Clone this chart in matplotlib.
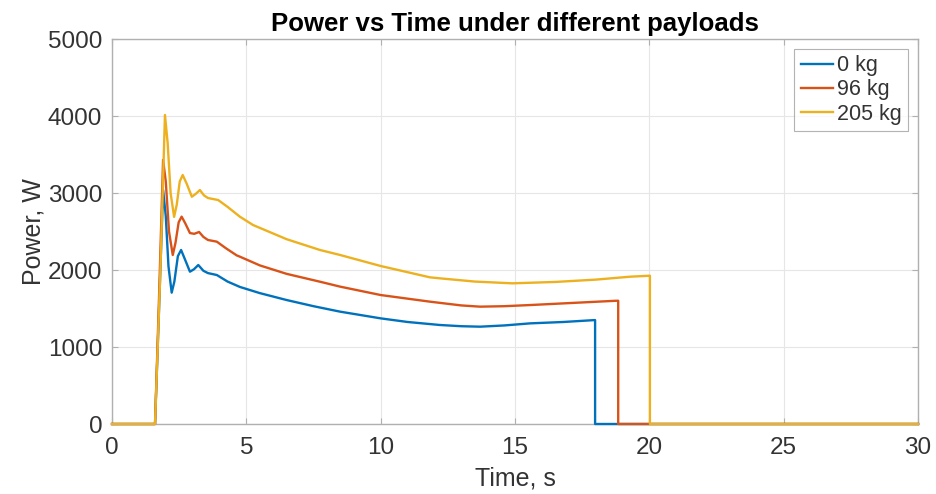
import matplotlib.pyplot as plt

plt.rcParams['font.family'] = ['Liberation Sans', 'DejaVu Sans']

# Series (time in s, power in W)
t_0kg = [0, 1.6, 1.75, 1.9, 2.0, 2.1, 2.22, 2.32, 2.45, 2.57, 2.7, 2.9, 3.05, 3.21, 3.4, 3.57,
         3.9, 4.3, 4.76, 5.5, 6.5, 7.5, 8.49, 10, 11, 12.2, 13.0, 13.7, 14.6, 15.56, 16.8, 17.98, 17.98, 30]
p_0kg = [0, 0, 1500, 3040, 2700, 2050, 1706, 1850, 2180, 2260, 2150, 1978, 2010, 2065, 1990, 1960,
         1935, 1850, 1780, 1700, 1610, 1530, 1459, 1372, 1325, 1286, 1270, 1264, 1280, 1307, 1325, 1350, 0, 0]

t_96kg = [0, 1.6, 1.75, 1.9, 2.0, 2.12, 2.26, 2.36, 2.48, 2.59, 2.72, 2.9, 3.06, 3.24, 3.4, 3.57,
          3.9, 4.25, 4.64, 4.76, 5.5, 6.5, 7.74, 8.49, 10, 11.83, 13.0, 13.7, 14.6, 15.56, 17.0, 18.72, 18.84, 18.84, 30]
p_96kg = [0, 0, 1650, 3430, 3150, 2500, 2195, 2350, 2620, 2693, 2610, 2480, 2470, 2494, 2430, 2390,
          2368, 2280, 2190, 2173, 2060, 1950, 1848, 1784, 1675, 1589, 1540, 1524, 1530, 1545, 1570, 1600, 1601, 0, 0]

t_205kg = [0, 1.6, 1.8, 1.97, 2.07, 2.18, 2.31, 2.41, 2.52, 2.63, 2.78, 2.97, 3.12, 3.27, 3.42, 3.57,
           3.95, 4.3, 4.76, 5.25, 6.5, 7.74, 8.49, 10, 11.83, 12.2, 13.5, 14.9, 16.5, 18.0, 19.28, 20.02, 20.02, 30]
p_205kg = [0, 0, 2000, 4013, 3650, 3000, 2690, 2850, 3150, 3234, 3120, 2952, 2990, 3039, 2970, 2935,
           2909, 2820, 2692, 2584, 2400, 2260, 2195, 2052, 1905, 1892, 1850, 1827, 1845, 1875, 1913, 1926, 0, 0]

labels = ['0 kg', '96 kg', '205 kg']
colors = ['#0072BD', '#D95319', '#EDB120']

fig = plt.figure(figsize=(9.36, 4.94), dpi=100)
ax = fig.add_axes([0.1197, 0.1417, 0.8611, 0.7793])

# lines above the spines so the zero level shows in colour
ax.plot(t_0kg, p_0kg, color=colors[0], lw=1.7, label=labels[0], zorder=3, clip_on=False)
ax.plot(t_96kg, p_96kg, color=colors[1], lw=1.7, label=labels[1], zorder=3, clip_on=False)
ax.plot(t_205kg, p_205kg, color=colors[2], lw=1.7, label=labels[2], zorder=3, clip_on=False)

ax.set_xlim(0, 30)
ax.set_ylim(0, 5000)
ax.set_xticks([0, 5, 10, 15, 20, 25, 30])
ax.set_yticks([0, 1000, 2000, 3000, 4000, 5000])
ax.grid(True, color='#e6e6e6', lw=0.8)
ax.set_axisbelow(True)

for s in ax.spines.values():
    s.set_color('#b0b0b0')
    s.set_linewidth(1.0)
ax.tick_params(direction='in', length=4, width=0.8, colors='#b0b0b0',
               labelcolor='#333333', labelsize=17.5, top=True, right=True)
ax.tick_params(axis='x', pad=9)
ax.tick_params(axis='y', pad=7)

ax.set_xlabel('Time, s', fontsize=18, color='#333333', labelpad=6)
ax.set_ylabel('Power, W', fontsize=18, color='#333333', labelpad=2)
ax.set_title('Power vs Time under different payloads', fontsize=18.5, fontweight='bold',
             color='black', pad=6)

leg = ax.legend(loc='upper right', fontsize=15.5, frameon=True, fancybox=False,
                handlelength=1.5, handletextpad=0.2, borderpad=0.3, labelspacing=0.15,
                borderaxespad=0.45)
leg.get_frame().set_edgecolor('#a0a0a0')
leg.get_frame().set_linewidth(0.8)
for t in leg.get_texts():
    t.set_color('#333333')

fig.savefig('out.png', dpi=100)
